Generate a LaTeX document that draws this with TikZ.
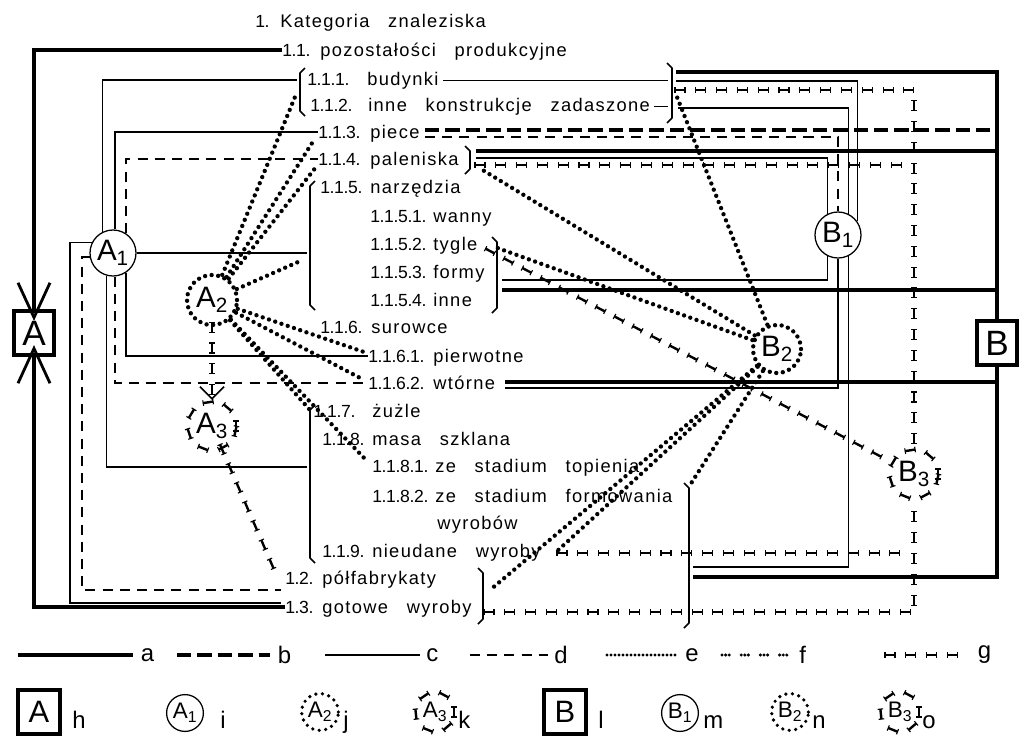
\documentclass[tikz,border=0pt]{standalone}
\usepackage{fontspec}
\setmainfont{Liberation Sans}[LetterSpace=7.5, WordSpace=2.9]
\newfontfamily\nrfont{Liberation Sans}[LetterSpace=-2.0]
\newfontfamily\lgdfont{Liberation Sans}
\usetikzlibrary{decorations.markings}

\begin{document}
\begin{tikzpicture}[x=0.025cm, y=-0.025cm,
    aline/.style={line width=3.2pt},
    bline/.style={line width=3.2pt, dash pattern=on 0.36cm off 0.15cm},
    cline/.style={line width=0.9pt},
    dline/.style={line width=0.9pt, dash pattern=on 0.25cm off 0.18cm},
    eline/.style={line width=3.1pt, line cap=round, dash pattern=on 0pt off 0.165cm},
    fline/.style={line width=2.4pt, line cap=round, dash pattern=on 0pt off 0.09cm on 0pt off 0.09cm on 0pt off 0.3cm},
    gline/.style={decoration={markings, mark=between positions 0 and 1 step 0.52cm with {
        \draw[line width=1.7pt] (-5,0) -- (5,0);
        \draw[line width=0.8pt] (-5,-2.8) -- (-5,2.8) (5,-2.8) -- (5,2.8);}},
      postaction={decorate}},
    brace/.style={line width=1.1pt, line join=round},
    item/.style={anchor=base west, inner sep=0pt, font=\fontsize{13}{15}\selectfont},
    nr/.style={anchor=base west, inner sep=0pt, font=\nrfont\fontsize{12.5}{15}\selectfont},
    ring/.style={circle, inner sep=0pt, minimum size=1.15cm, font=\lgdfont\fontsize{21}{21}\selectfont},
    boxed/.style={draw, line width=3.2pt, minimum width=1cm, minimum height=1.1cm, inner sep=0pt, font=\lgdfont\fontsize{25}{25}\selectfont},
    lgd/.style={inner sep=0pt, font=\lgdfont\fontsize{17}{17}\selectfont},
    key/.style={circle, inner sep=0pt, minimum size=0.92cm, font=\lgdfont\fontsize{16}{16}\selectfont}
]
\useasboundingbox (0,0) rectangle (1020,739);

% list of categories: number, then its words
\foreach \n/\x/\y/\num/\w/\t in {
    t1/255/27/1./280/{Kategoria znaleziska},
    t11/282/56/1.1./320/{pozostałości produkcyjne},
    t111/307/85/1.1.1./367/{budynki},
    t112/310/111/1.1.2./368/{inne konstrukcje zadaszone},
    t113/318/138/1.1.3./370/{piece},
    t114/318/165/1.1.4./370/{paleniska},
    t115/320/193/1.1.5./370/{narzędzia},
    t1151/370/222/1.1.5.1./433/{wanny},
    t1152/370/250/1.1.5.2./433/{tygle},
    t1153/370/278/1.1.5.3./433/{formy},
    t1154/370/306/1.1.5.4./433/{inne},
    t116/320/333/1.1.6./371/{surowce},
    t1161/368/362/1.1.6.1./433/{pierwotne},
    t1162/368/389/1.1.6.2./433/{wtórne},
    t117/313/417/1.1.7./372/{żużle},
    t118/322/445/1.1.8./372/{masa szklana},
    t1181/372/472/1.1.8.1./435/{ze stadium topienia},
    t1182/372/502/1.1.8.2./435/{ze stadium formowania},
    t119/322/557/1.1.9./372/{nieudane wyroby},
    t12/285/584/1.2./322/{półfabrykaty},
    t13/285/613/1.3./322/{gotowe wyroby}} {
    \node[nr] (n\n) at (\x,\y) {\num};
    \node[item] (\n) at (\w,\y) {\t};
}
\node[item] (twyr) at (437,529) {wyrobów};

% brackets
\foreach \x/\ya/\yb/\d in {300/68/116/5, 310/181/310/5, 310/405/563/5, 672/63/123/-5,
    470/146/174/-5, 497/237/313/-5, 689/483/628/-5, 483/568/624/-5}
    \draw[brace] ({\x+\d},\ya) -- (\x,\ya+5) -- (\x,\yb-5) -- ({\x+\d},\yb);

% groups
\node[boxed] (Abox) at (34,333) {A};
\node[boxed] (Bbox) at (997,343) {B};
\node[ring, draw, cline] (A1) at (113,253) {A\textsubscript{1}};
\node[ring, draw, eline, minimum size=1.25cm] (A2) at (212,300) {A\textsubscript{2}};
\node[ring, minimum size=1.25cm] (A3) at (212,426) {A\textsubscript{3}};
\node[ring, draw, cline] (B1) at (838,235) {B\textsubscript{1}};
\node[ring, draw, eline, minimum size=1.2cm] (B2) at (777,349) {B\textsubscript{2}};
\node[ring, minimum size=1.25cm] (B3) at (914,474) {B\textsubscript{3}};
\path[gline] (A3.center) circle[radius=0.6cm];
\path[gline] (B3.center) circle[radius=0.6cm];

% end points on the list
\coordinate (kBud) at (297,80);
\coordinate (kNar) at (307,253);
\coordinate (kZuz) at (307,467);
\coordinate (kPol) at (281,590);
\coordinate (kGot) at (281,603);
\coordinate (cL1) at (70,400);
\coordinate (cL2) at (82,400);
\coordinate (kB1) at (676,72);
\coordinate (kBud2) at (676,81);
\coordinate (kBudG) at (680,90);
\coordinate (kZad2) at (677,97);
\coordinate (kZad) at (678,108);
\coordinate (kBudR) at (668,80);
\coordinate (kZadR) at (668,108);
\coordinate (kPie) at (425,130);
\coordinate (kPie2) at (425,137);
\coordinate (kPal) at (476,151);
\coordinate (kPal2) at (476,158);
\coordinate (kPalG) at (480,165);
\coordinate (kPal3) at (481,169);
\coordinate (kTyg2) at (492,246);
\coordinate (kTyg3) at (490,251);
\coordinate (kFor) at (502,280);
\coordinate (kTyg) at (502,290);
\coordinate (kWt) at (505,382);
\coordinate (kWt2) at (505,388);
\coordinate (kFo3) at (690,485);
\coordinate (kNie) at (555,553);
\coordinate (kNieG) at (562,553);
\coordinate (kFo2) at (693,567);
\coordinate (kB5) at (693,577);
\coordinate (kPolB) at (490,590);
\coordinate (kGotG) at (489,612);
\coordinate (kA11) at (297,92);
\coordinate (kA13) at (314,140);
\coordinate (kA14) at (316,167);
\coordinate (kA15) at (298,262);
\coordinate (kA61) at (364,352);
\coordinate (kA62) at (364,380);
\coordinate (kA7) at (310,410);
\coordinate (kA81) at (368,462);
\coordinate (kA12) at (279,581);

% A side
\draw[aline] (nt11.west) -| (Abox.north);
\draw[aline] (Abox.south) |- (nt13.west);
\draw[line width=2pt] ([shift={(-16,-26)}]Abox.north) -- ([yshift=-0.22cm]Abox.north) -- ([shift={(16,-26)}]Abox.north);
\draw[line width=2pt] ([shift={(-16,26)}]Abox.south) -- ([yshift=0.22cm]Abox.south) -- ([shift={(16,26)}]Abox.south);

\draw[cline] (A1.117) |- (kBud);
\draw[cline] (A1.85) |- (nt113.west);
\draw[dline] (A1.57) |- (nt114.west);
\draw[cline] (A1.east) -- (A1.east -| kNar);
\draw[cline] (A1.303) |- (nt1161.west);
\draw[dline] (A1.275) |- (nt1162.west);
\draw[cline] (A1.254) |- (kZuz);
\draw[cline] (A1.153) -| (cL1) |- (kGot);
\draw[dline] (A1.190) -| (cL2) |- (kPol);

\foreach \k in {kA11, kA13, kA14, kA15, kA61, kA62, kA7, kA81}
    \draw[eline] (A2) -- (\k);
\path[gline] (A2.south) -- ([yshift=0.1cm]A3.north);
\draw[line width=1.2pt] ([shift={(-12,-14)}]A3.north) -- ([yshift=0.05cm]A3.north) -- ([shift={(12,-14)}]A3.north);
\path[gline] (A3) -- (kA12);

% B side
\draw[aline] (kB1) -| (Bbox.north);
\draw[aline] (kB5) -| (Bbox.south);
\draw[aline] (kPal) -- (kPal -| Bbox);
\draw[aline] (kTyg) -- (kTyg -| Bbox);
\draw[aline] (kWt) -- (kWt -| Bbox);
\draw[bline] (kPie) -- (kPie -| Bbox);

\draw[cline] ([xshift=3pt]t111.east) -- (t111.east -| kBudR);
\draw[cline] ([xshift=3pt]t112.east) -- (t112.east -| kZadR);
\draw[cline] (kBud2) -| (B1.35);
\draw[cline] (kZad) -| (B1.63);
\draw[dline] (kPie2) -| (B1.90);
\draw[cline] (kPal2) -| (B1.117);
\draw[cline] (kFor) -| (B1.243);
\draw[cline] (kWt2) -| (B1.270);
\draw[cline] (kFo2) -| (B1.297);

\foreach \k in {kPal3, kTyg2, kZad2, kFo3, kNie, kPolB}
    \draw[eline] (B2) -- (\k);

\path[gline] (kBudG) -| (B3.north);
\path[gline] (kPalG) -- (kPalG -| B3);
\path[gline] (kNieG) -- (kNieG -| B3);
\path[gline] (kGotG) -| (B3.south);
\path[gline] (kTyg3) -- (B3);

% legend
\foreach \s/\x/\w/\l in {aline/18/115/a, bline/177/93/b, cline/325/95/c, dline/470/78/d, fline/722/70/f}
    \draw[\s] (\x,655) -- ++(\w,0) node[lgd, anchor=west, xshift=4pt] (k\l) {\l};
\draw[eline, line width=2.4pt, dash pattern=on 0pt off 0.1cm] (607,655) -- ++(71,0) node[lgd, anchor=west, xshift=4pt] (ke) {e};
\path[gline] (890,655) -- ++(82,0) node[lgd, anchor=west, xshift=4pt] (kg) {g};

\node[boxed, minimum width=1.05cm, minimum height=1.1cm, font=\lgdfont\fontsize{22}{22}\selectfont] (lA) at (39,712) {A};
\node[boxed, minimum width=1.05cm, minimum height=1.1cm, font=\lgdfont\fontsize{22}{22}\selectfont] (lB) at (565,712) {B};
\node[key, draw, cline] (lA1) at (185,713) {A\textsubscript{1}};
\node[key, draw, eline, line width=2.6pt] (lA2) at (320,712) {A\textsubscript{2}};
\node[key] (lA3) at (435,712) {A\textsubscript{3}};
\node[key, draw, cline] (lB1) at (680,713) {B\textsubscript{1}};
\node[key, draw, eline, line width=2.6pt] (lB2) at (790,712) {B\textsubscript{2}};
\node[key] (lB3) at (900,712) {B\textsubscript{3}};
\path[gline] (lA3.center) circle[radius=0.48cm];
\path[gline] (lB3.center) circle[radius=0.48cm];
\foreach \n/\x/\l in {lh/72/h, li/220/i, lj/343/j, lk/458/k, ll/598/l, lm/703/m, ln/812/n, lo/922/o}
    \node[lgd, anchor=base west] (\n) at (\x,728) {\l};
\end{tikzpicture}
\end{document}
